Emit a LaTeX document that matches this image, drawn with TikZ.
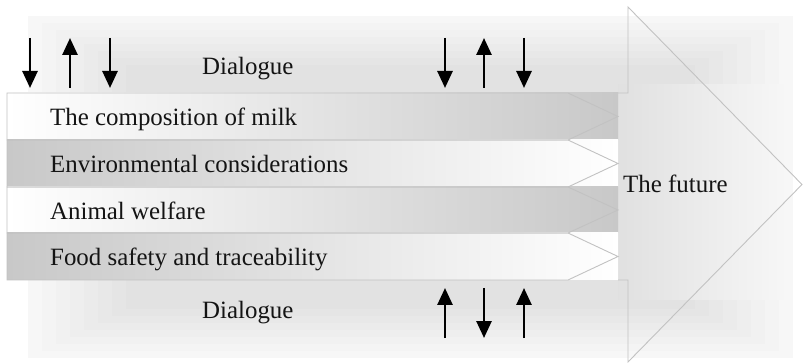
\documentclass[tikz,border=0pt]{standalone}
\usepackage{fontspec}
\setmainfont{Liberation Serif}
\usetikzlibrary{arrows.meta}
\definecolor{rowgray}{HTML}{C8C8C8}
\definecolor{edgegray}{HTML}{C2C2C2}
\begin{document}
\begin{tikzpicture}[x=1pt,y=-1pt,
  lbl/.style={font=\fontsize{24.9}{28}\selectfont, inner sep=0pt, anchor=base west, text=black!92},
  rowline/.style={draw=edgegray, line width=0.9pt},
  flow/.style={line width=2.7pt, -{Triangle[width=15pt,length=17pt]}},
  oddrow/.style={left color=white, right color=rowgray},
  evenrow/.style={left color=rowgray, right color=white},
]
\useasboundingbox (0,0) rectangle (803,363);
% background glow of the big arrow
\fill[black!3] (28,16) rectangle (793,358);
\foreach \i in {1,...,7} {
  \fill[black, opacity=0.01] (28+14*\i,16+7*\i) rectangle (793-14*\i,358-7*\i);
}
% darker area inside the head
\shade[left color=black!12, right color=black!3] (618,85) rectangle (790,300);
% rows
\shade[oddrow]  (7,93)  rectangle (618,140);
\shade[evenrow] (7,140) rectangle (618,187);
\shade[oddrow]  (7,187) rectangle (618,233);
\shade[evenrow] (7,233) rectangle (618,280);
\foreach \t/\m/\b in {93/116.5/140, 140/163.5/187, 187/210/233, 233/256.5/280} {
  \draw[rowline] (7,\t) -- (568,\t) -- (618,\m) -- (568,\b) -- (7,\b) -- cycle;
}
% big arrow head outline
\draw[rowline] (618,93) -- (628,93) -- (628,7) -- (802,184.5) -- (628,362) -- (628,280) -- (618,280);
% texts
\node[lbl] (r1) at (50,125.5) {The composition of milk};
\node[lbl] (r2) at (50,172.5) {Environmental considerations};
\node[lbl] (r3) at (50,219.5) {Animal welfare};
\node[lbl] (r4) at (50,266) {Food safety and traceability};
\node[lbl] (d1) at (202,75) {Dialogue};
\node[lbl] (d2) at (202,319) {Dialogue};
\node[lbl] (fut) at (623,193) {The future};
% dialogue arrows
\coordinate (a1t) at (30,38);  \coordinate (a1b) at (30,88);
\coordinate (a2t) at (70,38);  \coordinate (a2b) at (70,88);
\coordinate (a3t) at (110,38); \coordinate (a3b) at (110,88);
\coordinate (a4t) at (445,38); \coordinate (a4b) at (445,88);
\coordinate (a5t) at (484,38); \coordinate (a5b) at (484,88);
\coordinate (a6t) at (524,38); \coordinate (a6b) at (524,88);
\coordinate (b1t) at (445,288); \coordinate (b1b) at (445,338);
\coordinate (b2t) at (484,288); \coordinate (b2b) at (484,338);
\coordinate (b3t) at (524,288); \coordinate (b3b) at (524,338);
\draw[flow] (a1t) -- (a1b);
\draw[flow] (a2b) -- (a2t);
\draw[flow] (a3t) -- (a3b);
\draw[flow] (a4t) -- (a4b);
\draw[flow] (a5b) -- (a5t);
\draw[flow] (a6t) -- (a6b);
\draw[flow] (b1b) -- (b1t);
\draw[flow] (b2t) -- (b2b);
\draw[flow] (b3b) -- (b3t);
\end{tikzpicture}
\end{document}
